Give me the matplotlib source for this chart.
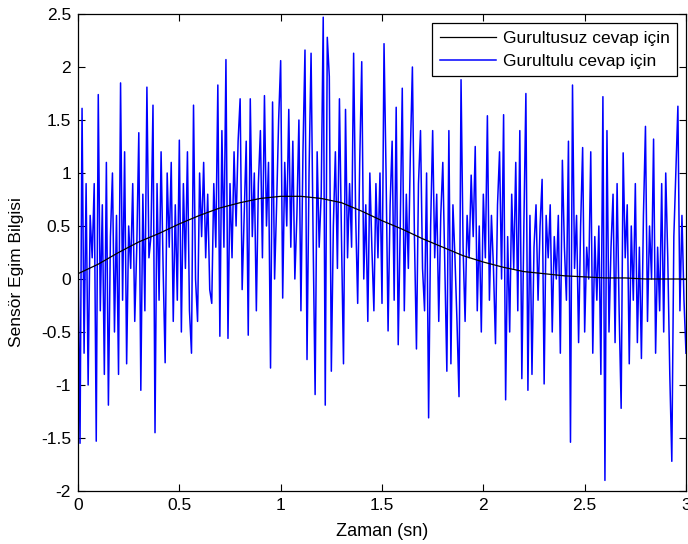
import numpy as np
import matplotlib
matplotlib.use("Agg")
import matplotlib.pyplot as plt

# --- data -------------------------------------------------------------
dt_noisy = 0.01          # sample spacing of the noisy series (s)
dt_clean = 0.1           # sample spacing of the clean series (s)

clean = [0.05, 0.14, 0.25, 0.35, 0.43, 0.52, 0.60, 0.67, 0.72, 0.76,
         0.78, 0.78, 0.76, 0.72, 0.64, 0.55, 0.47, 0.38, 0.30, 0.22,
         0.16, 0.11, 0.07, 0.05, 0.03, 0.02, 0.01, 0.01, 0.0, 0.0, 0.0]

noisy = [
    0.3, -1.55, 1.61, -0.7, 0.9, -1.0, 0.6, 0.2, 0.9, -1.53,
    1.74, -0.3, 0.7, -0.9, 1.1, -1.19, 0.4, 1.0, -0.5, 0.6,
    -0.9, 1.85, -0.2, 1.2, -0.8, 0.5, 0.1, 0.9, -0.4, 0.3,
    1.38, -1.05, 0.8, -0.3, 1.81, 0.2, 0.4, 1.64, -1.45, 0.9,
    -0.2, 1.2, 0.1, -0.79, 1.0, 0.3, 1.1, -0.4, 0.7, -0.2,
    1.31, -0.5, 0.9, 0.1, 1.2, -0.3, -0.70, 1.64, 0.0, -0.40,
    1.0, 0.4, 1.1, 0.2, 0.8, -0.1, -0.23, 0.9, 0.3, 1.83,
    -0.54, 1.4, 0.3, 2.07, -0.56, 0.9, 0.2, 1.2, 0.5, 1.3,
    1.70, -0.1, 0.6, 1.3, -0.53, 1.70, 0.4, 1.0, -0.3, 0.9,
    1.4, 0.2, 1.73, 0.5, 1.1, -0.84, 1.67, 0.0, 0.7, 1.5,
    2.06, -0.18, 1.1, 0.5, 1.6, 0.3, 1.3, 0.0, 0.6, 1.5,
    -0.3, 1.2, 2.16, -0.76, 1.0, 2.13, 0.4, -1.09, 1.2, 0.3,
    0.8, 2.47, -1.19, 2.28, 1.91, -0.87, 0.5, 1.2, 0.1, 1.7,
    0.4, -0.80, 1.6, 0.2, 0.9, 0.3, 2.13, 0.6, -0.23, 1.1,
    2.05, 0.0, 0.7, -0.4, 1.0, 0.3, -0.3, 0.9, 0.2, 1.0,
    -0.23, 2.22, 1.0, -0.49, 0.7, 1.3, -0.2, 1.62, -0.62, 0.5,
    1.80, -0.3, 0.8, 0.1, 1.2, 2.0, 0.4, -0.66, 0.9, 1.4,
    0.1, -0.3, 1.0, -1.31, 0.5, 1.4, 0.2, 0.8, -0.4, 0.6,
    1.1, 0.1, -0.87, 1.4, -0.80, 0.7, 0.2, -0.4, -1.11, 1.88,
    0.3, -0.4, 0.6, 0.2, 0.98, 0.4, 1.25, -0.3, 0.5, -0.5,
    0.8, 0.2, 1.54, -0.2, 0.6, 0.1, -0.61, 0.7, 1.2, 0.0,
    1.55, -1.14, 0.4, -0.5, 0.8, 0.1, 1.1, -0.3, 1.4, -0.94,
    0.5, 1.75, -1.05, 0.6, -0.9, 0.3, 0.7, -0.2, 0.5, 0.94,
    -0.99, 0.6, 0.2, 0.7, -0.5, 0.4, 0.0, 0.6, -0.7, 1.12,
    0.3, -0.2, 1.3, -1.54, 1.83, 0.1, 0.6, -0.6, 0.5, 1.24,
    -0.5, 0.3, 0.0, 1.2, -0.7, 0.4, -0.2, 0.5, -0.9, 1.72,
    -1.90, 1.4, -0.5, 0.3, 0.8, -0.6, 0.9, -0.3, -1.22, 1.19,
    0.2, 0.7, -0.8, 0.5, -0.2, 0.9, -0.6, 0.3, -0.75, 0.6,
    1.44, -0.4, 0.5, 0.0, 1.32, -0.7, 0.3, -0.3, 0.9, -0.5,
    1.0, 0.2, -0.9, -1.72, 0.4, 1.0, 1.63, -0.3, 0.6, -0.2,
    -0.7,
]

x_ticks = [0, 0.5, 1, 1.5, 2, 2.5, 3]
y_ticks = [-2, -1.5, -1, -0.5, 0, 0.5, 1, 1.5, 2, 2.5]
labels = ["Gurultusuz cevap için", "Gurultulu cevap için"]
x_label = "Zaman (sn)"
y_label = "Sensör Egim Bilgisi"

# --- plot -------------------------------------------------------------
plt.rcParams['font.family'] = ['Liberation Sans', 'DejaVu Sans']
plt.rcParams['font.size'] = 12

t_noisy = np.arange(len(noisy)) * dt_noisy
t_clean = np.arange(len(clean)) * dt_clean

fig = plt.figure(figsize=(6.88, 5.44), dpi=100)
ax = fig.add_axes([78/688, 53/544, 608/688, 477/544])

ax.plot(t_clean, clean, color='black', lw=0.9, label=labels[0], zorder=3)
ax.plot(t_noisy, noisy, color='#0000ff', lw=1.1, label=labels[1], zorder=2)

ax.set_xlim(0, 3)
ax.set_ylim(-2, 2.5)
ax.set_xticks(x_ticks)
ax.set_xticklabels(['%g' % v for v in x_ticks])
ax.set_yticks(y_ticks)
ax.set_yticklabels(['%g' % v for v in y_ticks])
ax.tick_params(direction='in', top=True, right=True, length=5, width=0.8,
               labelsize=12.5, pad=5)
for s in ax.spines.values():
    s.set_linewidth(0.9)

ax.set_xlabel(x_label, fontsize=13, labelpad=7)
ax.set_ylabel(y_label, fontsize=12.5)
ax.yaxis.set_label_coords(-0.088, 0.46)

leg = ax.legend(loc='upper right', fancybox=False, edgecolor='black',
                framealpha=1, fontsize=12.5, borderaxespad=0.5,
                handlelength=3.2, handletextpad=0.4, borderpad=0.45,
                labelspacing=0.45)
leg.get_frame().set_linewidth(0.9)

fig.savefig('out.png', dpi=100)
